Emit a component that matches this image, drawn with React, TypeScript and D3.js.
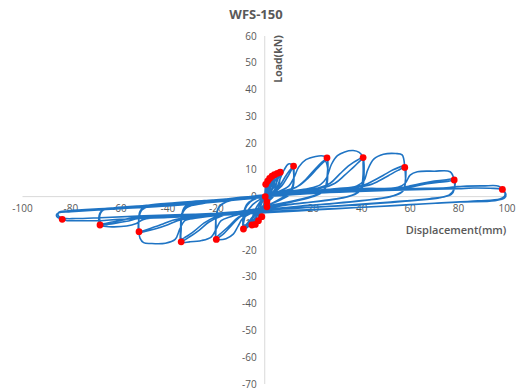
import React from 'react';
import * as d3 from 'd3';

type Pt = [number, number];

const W = 523;
const H = 389;

const chartTitle = 'WFS-150';
const xTitle = 'Displacement(mm)';
const yTitle = 'Load(kN)';

const xTicks = [-100, -80, -60, -40, -20, 0, 20, 40, 60, 80, 100];
const yTicks = [60, 50, 40, 30, 20, 10, 0, -10, -20, -30, -40, -50, -60, -70];

// early small-amplitude cycles (displacement mm, load kN)
const smallCycles: Pt[][] = [
  [[0, 0], [0.2, 2.5], [0.4, 4.6], [0.2, 2], [0.2, 0], [0.6, -1], [0.9, -2], [0.5, -0.5], [0.3, 1]],
  [[0.3, 1], [0.8, 4], [1.2, 5.8], [0.8, 3], [0.6, 0], [0.9, -2], [0.9, -3.8], [0.4, -2], [0, 0]],
  [[0, 0], [1, 3], [2, 6.8], [1.4, 3], [0.5, 0], [-0.3, -3], [-1.2, -7.5], [-0.6, -4], [0, -1], [0.5, 1]],
  [[0.5, 1], [2, 4], [3, 7.6], [2.3, 3], [1.2, 0], [0, -3], [-1.5, -6], [-2.6, -9], [-1.8, -4], [-0.5, -1], [1, 1]],
  [[1, 1], [3, 4.5], [4, 8.2], [3.4, 4], [2, 0.5], [0, -2.5], [-2, -6.5], [-3.9, -10.4], [-3, -5], [-1, -1.5], [1, 0.5]],
  [[1, 0.5], [3, 3], [4.5, 6.5], [5.2, 8.7], [4.6, 4], [3, 0.5], [0, -2.5], [-3, -7], [-5.3, -10.6], [-4.5, -6], [-2, -2], [0, 0]],
  [[0, 0], [3, 2.5], [5, 5.5], [6.4, 9.1], [5.8, 4], [4, 0.5], [0, -3], [-3, -5.5], [-6, -9], [-8.8, -12.1], [-8, -7], [-5, -3], [-1, -0.5], [0, 0]],
];

const cycles12: Pt[][] = [
  [[0, 0], [3, 1.5], [5, 3.5], [6.5, 7], [8, 10], [9.8, 12.2], [11.2, 12], [11.9, 11.4], [12, 8], [11.5, 4], [10, 1.5], [7, -0.5], [3, -2.5], [0, -4], [-2, -5.5], [-4, -8], [-6, -10.5], [-8, -12], [-8.8, -12.1], [-8.9, -9], [-8.3, -5], [-6, -2], [-3, -0.5], [0, 0.5]],
  [[0, 0.5], [4, 2], [6.5, 4.5], [8.5, 7.5], [10.5, 10], [11.8, 11], [12, 7], [11.3, 2.5], [9, 0], [5, -1.5], [1, -3.5], [-2, -5], [-4.5, -7.5], [-7, -10.5], [-8.7, -11.8], [-8.9, -8], [-7.5, -3], [-4, -0.8], [0, 0.3]],
  [[0, 0.3], [4, 1.8], [7, 4], [9.5, 7.5], [11.5, 10.3], [12, 8], [11.8, 4], [10.5, 1], [7, -1], [2, -3], [-2, -4.5], [-5, -7.5], [-7.5, -10.3], [-8.7, -11], [-8.7, -6], [-7, -2.5], [-3, -0.5], [0, 0.5]],
];

const cycles25: Pt[][] = [
  [[0, 0.5], [6, 2], [10, 4], [12, 7], [14, 11], [17, 13.8], [21, 15], [24, 15.2], [25.7, 14.5], [26, 9], [25.5, 4], [23.5, 1.5], [18, -0.5], [10, -2], [3, -3.5], [0, -4.5], [-5, -6], [-9, -8], [-11, -11], [-13, -14], [-16, -15.7], [-19, -16.1], [-20, -16], [-20.3, -11], [-19.8, -6], [-18, -3], [-12, -1], [-5, 0], [0, 0.5]],
  [[0, 0.5], [8, 2], [13, 3.5], [17, 6.5], [21, 10.5], [24, 13.2], [25.6, 14], [25.8, 8], [24.5, 2.5], [20, 0], [12, -1.8], [4, -3.3], [0, -4.2], [-6, -5.8], [-10, -7.5], [-14, -11], [-17.5, -14.3], [-19.8, -15.5], [-20.2, -10], [-19.3, -4.5], [-16, -2], [-9, -0.5], [0, 0.6]],
  [[0, 0.6], [8, 2.2], [14, 4], [18, 7], [22, 10.8], [25, 13.2], [25.7, 12], [25.7, 6], [24, 2], [19, 0], [11, -1.7], [3, -3.2], [0, -4], [-6, -5.5], [-11, -7.8], [-15, -11.2], [-18.5, -14], [-20, -15], [-20.1, -11.5], [-20, -7], [-18.5, -3.5], [-14, -1.3], [-6, 0], [0, 0.6]],
];

const cycles40: Pt[][] = [
  [[0, 0.5], [10, 2], [18, 3], [23, 4.5], [25.5, 7], [27.5, 12], [30, 15.3], [33, 16.7], [36.5, 17.2], [39, 16.5], [40.6, 14.6], [41, 9], [40.5, 4], [38.5, 1.5], [32, -0.5], [20, -2], [10, -3], [0, -4.5], [-8, -6], [-14, -7.5], [-18, -9], [-20, -12], [-22, -15], [-26, -16.4], [-31, -16.9], [-34.5, -16.9], [-34.7, -12], [-34.3, -7], [-32, -4], [-25, -2.5], [-15, -1], [-5, 0], [0, 0.5]],
  [[0, 0.6], [12, 2.2], [22, 3.2], [27, 5], [31, 8.5], [35, 11.8], [38.5, 13.8], [40.5, 14.5], [40.7, 10], [40.2, 4], [38, 1.2], [31, -0.7], [20, -2], [10, -3], [0, -4.3], [-10, -5.8], [-18, -7.3], [-23, -9.5], [-27, -12.5], [-31, -15], [-34.3, -16.5], [-34.6, -10], [-33.8, -5.5], [-31, -3.3], [-22, -1.8], [-10, -0.3], [0, 0.5]],
  [[0, 0.5], [13, 2.2], [24, 3.3], [29, 5], [33, 8], [37, 11.3], [40.4, 13.9], [40.6, 12], [40.5, 7], [39.5, 2.5], [36, 0.5], [28, -1], [16, -2.3], [5, -3.5], [0, -4.2], [-12, -5.8], [-20, -7.4], [-25, -9.8], [-29, -12.8], [-32.5, -15], [-34.4, -15.8], [-34.5, -12], [-34.3, -7], [-33, -3.8], [-28, -2.5], [-15, -1], [0, 0.5]],
];

const cycles58: Pt[][] = [
  [[0, 0.5], [15, 2], [30, 3], [38, 4], [41, 6], [42.5, 10], [45, 14], [49, 15.8], [54, 16.1], [56.7, 15.6], [57.8, 10.9], [58, 5], [57, 2], [54, 0.5], [45, -1], [30, -2.5], [15, -3.5], [0, -5], [-15, -6.5], [-28, -8], [-33, -9], [-35, -12], [-37, -16], [-41, -17.4], [-47, -17.5], [-50, -17.2], [-51.5, -15.5], [-51.9, -13.1], [-52, -9], [-51.5, -5.5], [-49, -3.5], [-40, -2.5], [-25, -1.5], [-10, -0.5], [0, 0.5]],
  [[0, 0.5], [18, 2], [32, 3], [41, 4.3], [45, 6], [49, 8], [53, 10], [56.5, 11.3], [57.9, 11.4], [58.1, 6], [57.2, 2.3], [53, 0.3], [44, -1.2], [30, -2.5], [15, -3.6], [0, -5], [-15, -6.4], [-28, -7.7], [-36, -9], [-40, -10.5], [-45, -12], [-49.5, -13], [-51.8, -13.4], [-52, -8.5], [-51, -5.2], [-47, -3.5], [-35, -2.3], [-20, -1.2], [-5, 0], [0, 0.5]],
  [[0, 0.5], [20, 2], [35, 3.2], [43, 4.3], [47, 5.8], [51, 7.8], [55, 9.8], [57.8, 10.8], [58, 5.5], [57, 2], [52, 0], [40, -1.5], [25, -2.8], [10, -4], [0, -4.8], [-15, -6.2], [-30, -7.6], [-38, -8.8], [-42, -10.2], [-47, -11.8], [-51.7, -12.8], [-51.9, -8], [-50.7, -5], [-46, -3.3], [-32, -2.2], [-15, -0.8], [0, 0.4]],
];

const cycles78: Pt[][] = [
  [[0, 0.4], [20, 2], [40, 3], [55, 3.5], [58, 5], [60, 8], [63, 9.3], [70, 9.5], [76.5, 9.3], [78.2, 6.2], [78.2, 3], [77, 1], [72, -0.5], [60, -1.5], [40, -3], [20, -4], [0, -5], [-20, -6.5], [-40, -7.5], [-50, -8.5], [-53, -10], [-57, -11], [-63, -11.3], [-67, -11], [-68, -10.6], [-68.5, -8], [-67.5, -5.5], [-64, -4.5], [-50, -3.5], [-30, -2.5], [-10, -1], [0, 0]],
  [[0, 0.4], [20, 1.8], [40, 2.8], [55, 3.3], [60, 4], [65, 5], [70, 5.8], [75, 6.3], [78.2, 6.5], [78.3, 3], [77, 0.8], [71, -0.6], [58, -1.7], [40, -3], [20, -4], [0, -5], [-20, -6.3], [-40, -7.3], [-52, -8.2], [-57, -9.2], [-62, -10], [-66, -10.5], [-68, -10.6], [-68.3, -7.5], [-67, -5.2], [-62, -4.2], [-48, -3.3], [-28, -2.2], [-8, -0.8], [0, 0]],
  [[0, 0], [20, 1.6], [40, 2.6], [57, 3.2], [62, 3.9], [67, 4.8], [72, 5.4], [76, 5.8], [78.2, 5.9], [78, 2.5], [76, 0.5], [68, -0.8], [52, -2], [32, -3.3], [12, -4.4], [0, -5], [-20, -6.2], [-42, -7.2], [-55, -8], [-59, -8.8], [-63, -9.5], [-67.5, -10], [-68.2, -7.8], [-67.3, -5.3], [-61, -4.1], [-45, -3.1], [-22, -1.8], [0, 0]],
];

const cycles98: Pt[][] = [
  [[0, 0], [20, 1.5], [40, 2.5], [60, 3], [75, 3.3], [79, 3.7], [82, 3.9], [90, 4], [96.6, 3.9], [98.1, 2.7], [99.5, 1], [99, -0.5], [95, -1.5], [80, -2], [60, -3], [40, -4], [20, -5], [0, -6], [-20, -7], [-40, -7.8], [-60, -8.5], [-68, -9], [-75, -9], [-82, -8.9], [-83.6, -8.5], [-85.5, -7.8], [-86, -6.8], [-85, -6], [-80, -5.6], [-60, -4.5], [-40, -3.5], [-20, -2], [0, 0]],
  [[0, 0], [25, 1.5], [50, 2.3], [70, 2.8], [80, 3], [86, 3.2], [93, 3.1], [97.5, 2.8], [99, 1.8], [99, 0.2], [97, -0.9], [88, -1.6], [70, -2.5], [45, -3.8], [20, -4.8], [0, -5.6], [-25, -6.5], [-50, -7.2], [-68, -7.9], [-78, -8.2], [-83, -8.1], [-85.2, -7.2], [-85, -5.9], [-81, -5.3], [-65, -4.4], [-40, -3.2], [-20, -1.8], [0, 0]],
];

// peak points of each loading step
const peaksPositive: Pt[] = [
  [0.4, 4.6], [1.2, 5.8], [2, 6.8], [3, 7.6], [4, 8.2], [5.2, 8.7], [6.4, 9.1],
  [11.9, 11.4], [25.7, 14.5], [40.6, 14.6], [57.8, 10.9], [78.2, 6.2], [98.1, 2.7],
];
const peaksNegative: Pt[] = [
  [0.2, 0], [0.9, -2], [0.9, -3.8], [-1.2, -7.5], [-2.6, -9], [-3.9, -10.4], [-5.3, -10.6],
  [-8.8, -12.1], [-20, -16], [-34.5, -16.9], [-51.9, -13.1], [-68, -10.6], [-83.6, -8.5],
];

const allCycles: Pt[][] = [
  ...smallCycles, ...cycles12, ...cycles25, ...cycles40, ...cycles58, ...cycles78, ...cycles98,
];

const FONT = "'Open Sans', 'Liberation Sans', sans-serif";
const TEXT = '#595959';

export default function App() {
  const x = d3.scaleLinear().domain([-100, 100]).range([22.5, 507]);
  const y = d3.scaleLinear().domain([-70, 60]).range([384, 36]);

  const line = d3
    .line<Pt>()
    .x((d) => x(d[0]))
    .y((d) => y(d[1]))
    .curve(d3.curveCatmullRom.alpha(0.5));

  const trace: Pt[] = allCycles.flat();
  const peaks = [...peaksPositive, ...peaksNegative];

  return (
    <svg
      width={W}
      height={H}
      viewBox={`0 0 ${W} ${H}`}
      style={{ position: 'absolute', left: 0, top: 0, background: '#fff' }}
    >
      <rect width={W} height={H} fill="#fff" />
      {/* axes */}
      <line x1={x(-100)} x2={x(100)} y1={y(0)} y2={y(0)} stroke="#d9d9d9" strokeWidth={1} />
      <line x1={x(0)} x2={x(0)} y1={y(60)} y2={y(-70)} stroke="#d9d9d9" strokeWidth={1} />

      {yTicks.map((t) => (
        <text
          key={`y${t}`}
          x={x(0) - 8}
          y={y(t)}
          dy="0.35em"
          textAnchor="end"
          fontFamily={FONT}
          fontSize={10}
          fill={TEXT}
        >
          {t}
        </text>
      ))}
      {xTicks.map((t) => (
        <text
          key={`x${t}`}
          x={x(t)}
          y={y(0) + 15}
          textAnchor="middle"
          fontFamily={FONT}
          fontSize={10}
          fill={TEXT}
        >
          {t}
        </text>
      ))}

      {/* load-displacement hysteresis */}
      <path d={line(trace) ?? ''} fill="none" stroke="#1f74c4" strokeWidth={1.6} strokeLinejoin="round" />

      {peaks.map((p, i) => (
        <circle key={i} cx={x(p[0])} cy={y(p[1])} r={3.4} fill="#ff0000" />
      ))}

      <text x={256} y={19} textAnchor="middle" fontFamily={FONT} fontSize={13} fontWeight="bold" fill={TEXT}>
        {chartTitle}
      </text>
      <text
        transform={`translate(${x(0) + 17},${59}) rotate(-90)`}
        textAnchor="middle"
        fontFamily={FONT}
        fontSize={10.5}
        fontWeight="bold"
        fill={TEXT}
      >
        {yTitle}
      </text>
      <text x={456} y={234} textAnchor="middle" fontFamily={FONT} fontSize={11} fontWeight={600} fill={TEXT}>
        {xTitle}
      </text>
    </svg>
  );
}
